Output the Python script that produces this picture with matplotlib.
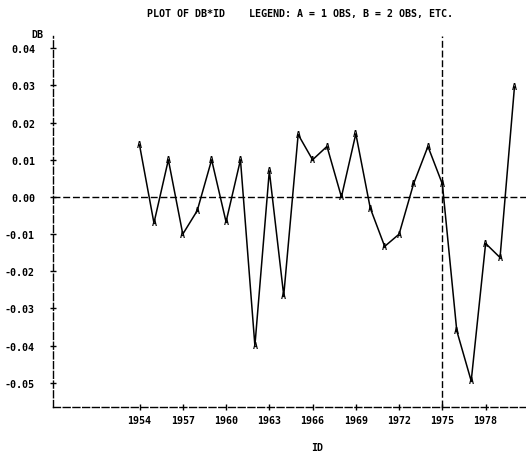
import matplotlib
matplotlib.use('Agg')
from matplotlib import pyplot as plt

# SAS printer plot of DB against ID
years = list(range(1954, 1981))
db = [0.014, -0.007, 0.010, -0.010, -0.0037, 0.010, -0.0067, 0.010, -0.040, 0.007,
      -0.0265, 0.0168, 0.010, 0.0136, 0.000, 0.017, -0.003, -0.0133, -0.010, 0.0035,
      0.0136, 0.0035, -0.036, -0.0495, -0.0125, -0.0163, 0.0296]
xticks = list(range(1954, 1979, 3))
yticks = [0.04, 0.03, 0.02, 0.01, 0.00, -0.01, -0.02, -0.03, -0.04, -0.05]
ref_year = 1975

font = {'family': 'DejaVu Sans Mono', 'weight': 'bold', 'size': 7.2}

fig = plt.figure(figsize=(5.26, 4.52), dpi=100)
ax = fig.add_axes([53 / 526, 44 / 452, 1 - 53 / 526, (408 - 37) / 452])

ax.plot(years, db, color='black', lw=1.1)
for x, y in zip(years, db):
    ax.text(x, y, 'A', ha='center', va='center', fontsize=6, fontweight='bold',
            family='DejaVu Sans Mono')

ax.axhline(0, color='black', lw=1.0, ls=(0, (5, 2)))
ax.axvline(ref_year, color='black', lw=1.0, ls=(0, (5, 2)))

ax.set_xlim(1948.0, 1980.8)
ax.set_ylim(-0.0565, 0.0433)

for side in ['top', 'right']:
    ax.spines[side].set_visible(False)
for side in ['left', 'bottom']:
    ax.spines[side].set_linestyle((0, (5, 2)))
    ax.spines[side].set_linewidth(1.0)

ax.set_xticks(xticks, [str(t) for t in xticks], fontdict=font)
ax.set_yticks(yticks, ['%.2f' % t for t in yticks], fontdict=font)
ax.tick_params(direction='inout', length=4, width=1.0)
ax.tick_params(axis='x', pad=4)
ax.tick_params(axis='y', pad=11)

ax.set_xlabel('ID', fontdict=font, labelpad=12)
ax.xaxis.set_label_coords((317 - 53) / (526 - 53), -0.095)
fig.text(43 / 526, 1 - 35 / 452, 'DB', ha='right', va='center', fontdict=font)
fig.text(300 / 526, 1 - 14 / 452,
         'PLOT OF DB*ID    LEGEND: A = 1 OBS, B = 2 OBS, ETC.',
         ha='center', va='center', fontdict=font)

fig.savefig('out.png', dpi=100)
